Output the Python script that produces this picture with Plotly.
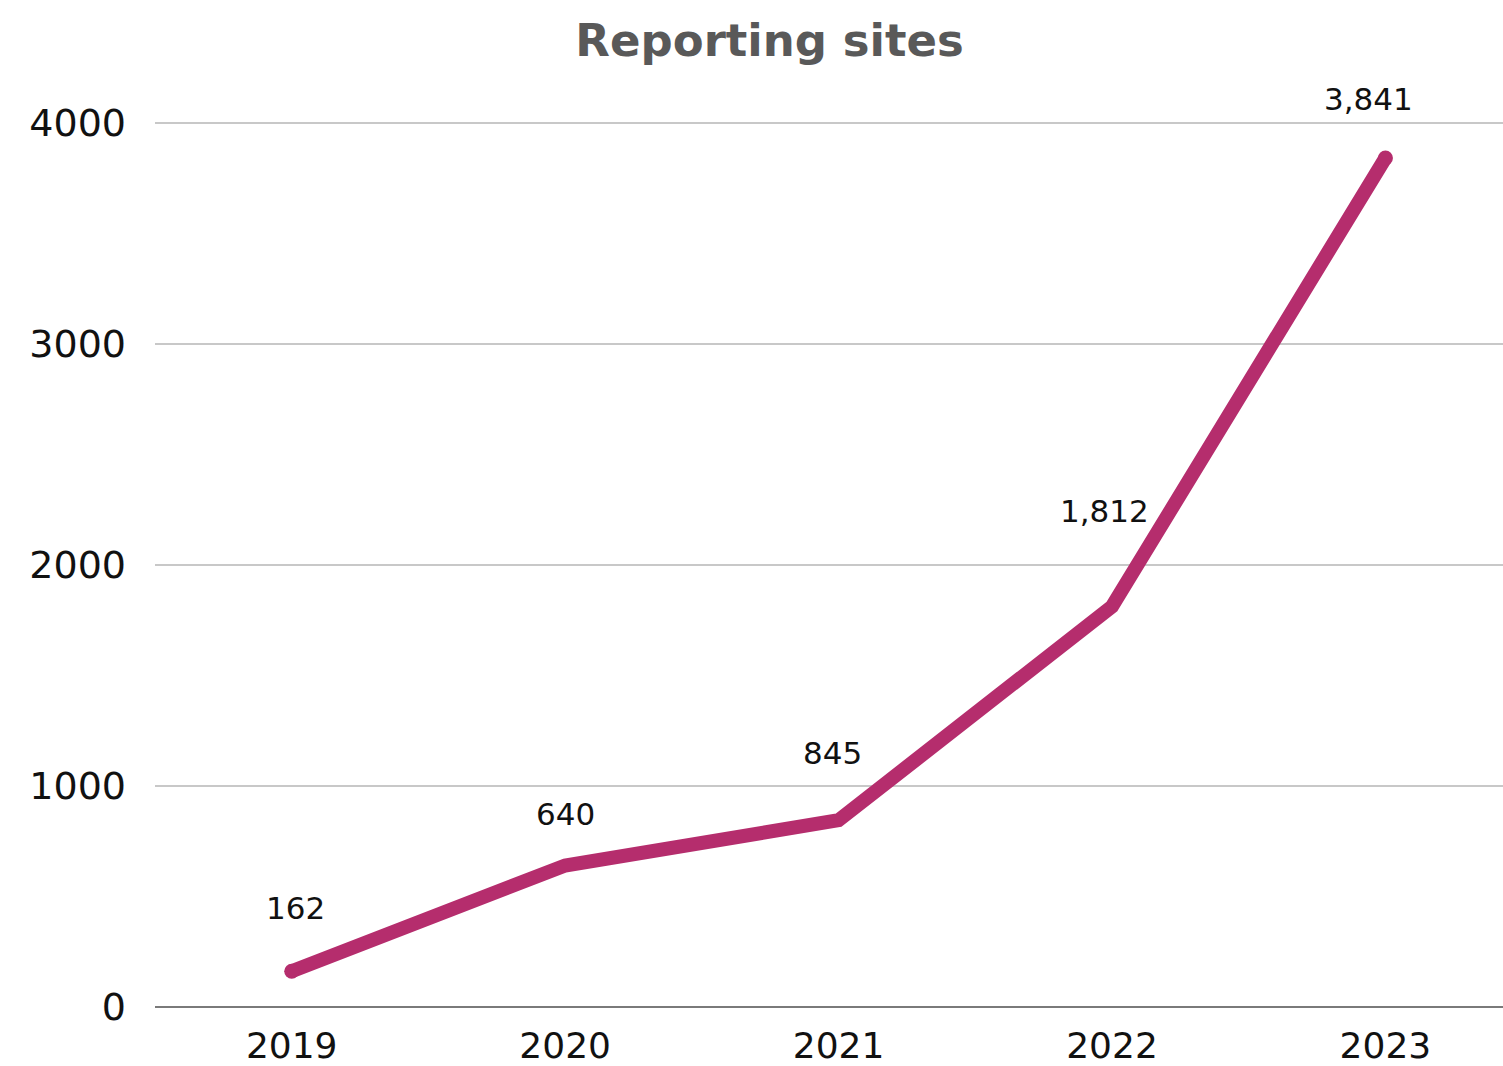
import plotly.graph_objects as go

# Reporting sites per year
years = ["2019", "2020", "2021", "2022", "2023"]
sites = [162, 640, 845, 1812, 3841]
value_labels = ["162", "640", "845", "1,812", "3,841"]

# label nudges (px) relative to each point
label_dx = [4, 0, -6, -8, -17]
label_dy = [63, 52, 67, 95, 59]

LINE_COLOR = "#B52D6D"
FONT = "DejaVu Sans"

fig = go.Figure()
fig.add_trace(go.Scatter(
    x=years, y=sites, mode="lines+markers",
    line=dict(color=LINE_COLOR, width=14),
    marker=dict(color=LINE_COLOR, size=[15, 0, 0, 0, 15], opacity=1,
                line=dict(width=0)),
    cliponaxis=False, hoverinfo="skip", showlegend=False,
))

annotations = []
for i, (v, txt, dx, dy) in enumerate(zip(sites, value_labels, label_dx, label_dy)):
    annotations.append(dict(
        xref="x", yref="y", x=i, y=v, text=txt, showarrow=False,
        xanchor="center", yanchor="middle",
        xshift=dx, yshift=dy,
        font=dict(family=FONT, size=31, color="#111111"),
    ))

fig.update_layout(
    width=1503, height=1066,
    margin=dict(l=155, r=0, t=114, b=54),
    paper_bgcolor="white", plot_bgcolor="white",
    title=dict(
        text="<b>Reporting sites</b>", x=0.512, xanchor="center",
        y=0.962, yanchor="middle",
        font=dict(family=FONT, size=45, color="#595959"),
    ),
    font=dict(family=FONT, color="#111111"),
    annotations=annotations,
)
fig.update_xaxes(
    type="category", range=[-0.5, 4.43],
    showgrid=False, showline=False, zeroline=False,
    ticks="", tickfont=dict(family=FONT, size=36, color="#111111"),
    ticklabelstandoff=14,
)
fig.update_yaxes(
    range=[0, 4040], tickvals=[0, 1000, 2000, 3000, 4000],
    showgrid=True, gridcolor="#C8C8C8", gridwidth=1.5,
    zeroline=True, zerolinecolor="#7A7A7A", zerolinewidth=2,
    showline=False, ticks="",
    tickfont=dict(family=FONT, size=38, color="#111111"),
    ticklabelstandoff=28,
)

fig.write_html("out.html")
